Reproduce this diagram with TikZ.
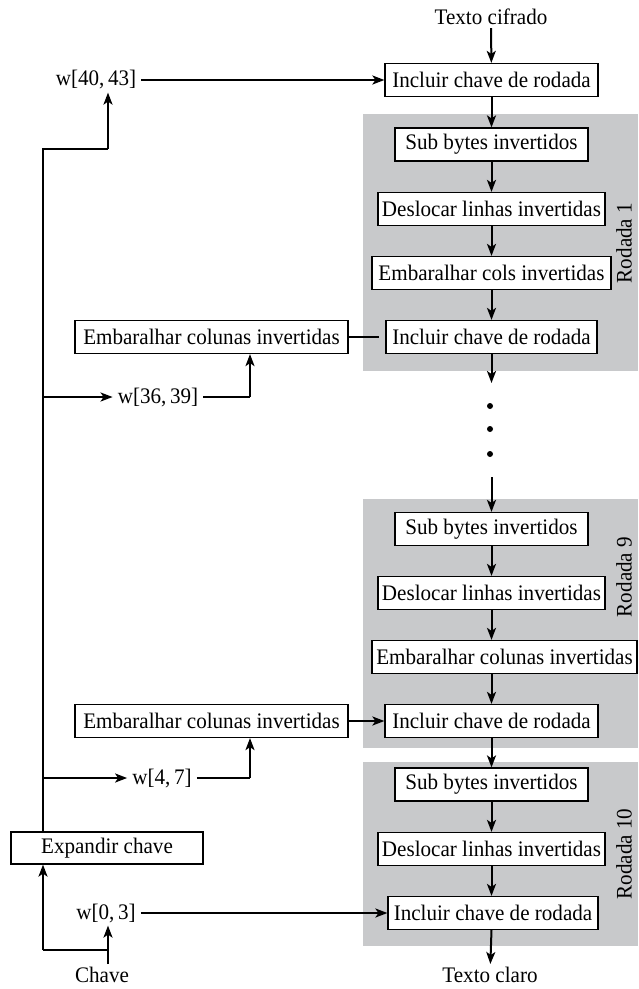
\documentclass[tikz,border=0pt]{standalone}
\usepackage{fontspec}
\setmainfont{Liberation Serif}[FakeStretch=0.95]
\usetikzlibrary{arrows.meta}
\definecolor{roundgray}{HTML}{C8C9CB}
\begin{document}
\begin{tikzpicture}[x=1pt,y=-1pt,
  font=\fontsize{22.2}{25}\selectfont,
  box/.style={draw,line width=1.2pt,fill=white,minimum height=33pt,inner xsep=0pt,inner ysep=0pt},
  lbl/.style={inner xsep=5pt,inner ysep=3pt},
  flow/.style={line width=2pt,-{Stealth[length=12pt,width=9pt,inset=3pt]}},
  wire/.style={line width=2pt},
  rnd/.style={fill=roundgray},
  rlabel/.style={rotate=90,inner sep=0pt},
  dot/.style={circle,fill,inner sep=0pt,minimum size=6pt}]
\useasboundingbox (0,0) rectangle (638,989);

% round backgrounds
\fill[rnd] (363,114) rectangle (638,371);
\fill[rnd] (363,499) rectangle (638,748);
\fill[rnd] (363,762) rectangle (638,946);

% decryption column
\node[lbl] (tc) at (491,17) {Texto cifrado};
\node[box,minimum width=213pt] (inc0) at (491.5,80) {Incluir chave de rodada};

\node[box,minimum width=193pt] (sb1) at (491.5,144.5) {Sub bytes invertidos};
\node[box,minimum width=227pt] (dl1) at (491.5,209) {Deslocar linhas invertidas};
\node[box,minimum width=239pt] (ec1) at (491.5,273) {Embaralhar cols invertidas};
\node[box,minimum width=211pt] (inc1) at (491.5,337) {Incluir chave de rodada};
\node[rlabel] (r1) at (624,243) {Rodada 1};

\node[dot] (d1) at (490,406) {};
\node[dot] (d2) at (490,429) {};
\node[dot] (d3) at (490,454) {};
\coordinate (gapA) at (491.5,383);
\coordinate (gapB) at (491.5,477);

\node[box,minimum width=193pt] (sb9) at (491.5,529) {Sub bytes invertidos};
\node[box,minimum width=227pt] (dl9) at (491.5,593) {Deslocar linhas invertidas};
\node[box,minimum width=265pt] (ec9) at (504.5,657) {Embaralhar colunas invertidas};
\node[box,minimum width=213pt] (inc9) at (491.5,721) {Incluir chave de rodada};
\node[rlabel] (r9) at (624,577) {Rodada 9};

\node[box,minimum width=193pt] (sb10) at (491.5,784.5) {Sub bytes invertidos};
\node[box,minimum width=227pt] (dl10) at (491.5,849) {Deslocar linhas invertidas};
\node[box,minimum width=210pt] (inc10) at (493,913) {Incluir chave de rodada};
\node[rlabel] (r10) at (624,854) {Rodada 10};
\node[lbl] (tcl) at (490,975) {Texto claro};

% key schedule side
\node[lbl] (w4043) at (96,80) {w[40,\,43]};
\node[box,minimum width=273pt] (embL1) at (211.5,337) {Embaralhar colunas invertidas};
\node[lbl] (w3639) at (158,397) {w[36,\,39]};
\node[box,minimum width=273pt] (embL9) at (211.5,721) {Embaralhar colunas invertidas};
\node[lbl] (w47) at (162,778) {w[4,\,7]};
\node[box,minimum width=192pt,minimum height=32pt] (exp) at (107,848) {Expandir chave};
\node[lbl] (w03) at (106,913) {w[0,\,3]};
\node[lbl] (chave) at (102,975) {Chave};

% main flow
\draw[flow] (tc) -- (inc0);
\draw[flow] (inc0) -- (sb1);
\draw[flow] (sb1) -- (dl1);
\draw[flow] (dl1) -- (ec1);
\draw[flow] (ec1) -- (inc1);
\draw[flow] (inc1) -- (gapA);
\draw[flow] (gapB) -- (sb9);
\draw[flow] (sb9) -- (dl9);
\draw[flow] (dl9) -- (ec9.north -| dl9.south);
\draw[flow] (ec9.south -| dl9.south) -- (inc9);
\draw[flow] (inc9) -- (sb10);
\draw[flow] (sb10) -- (dl10);
\draw[flow] (dl10) -- (inc10.north -| dl10.south);
\draw[flow] (inc10.south -| dl10.south) -- (tcl);

% round keys into the rounds
\draw[flow] (w4043.east) -- (inc0.west);
\draw[wire] (embL1.east) -- ([xshift=-6pt]inc1.west);
\draw[flow] (embL9.east) -- (inc9.west);
\draw[flow] (w03.east) -- (inc10.west);

% key expansion trunk and branches
\coordinate (k1) at (43,149);
\coordinate (k2) at (108,149);
\coordinate (b36) at (43,397);
\coordinate (u36) at (250,397);
\coordinate (b47) at (43,778);
\coordinate (u47) at (250,778);
\coordinate (c1) at (108,950);
\coordinate (c0) at (43,950);

\draw[wire] (exp.north -| k1) -- (k1) -- (k2);
\draw[flow] (k2) -- (k2 |- w4043.south);
\draw[flow] (b36) -- (w3639.west);
\draw[wire] (w3639.east) -- (u36);
\draw[flow] (u36) -- (u36 |- embL1.south);
\draw[flow] (b47) -- (w47.west);
\draw[wire] (w47.east) -- (u47);
\draw[flow] (u47) -- (u47 |- embL9.south);
\draw[flow] (chave.north -| c1) -- (c1 |- w03.south);
\draw[wire] (c1) -- (c0);
\draw[flow] (c0) -- (c0 |- exp.south);
\end{tikzpicture}
\end{document}
